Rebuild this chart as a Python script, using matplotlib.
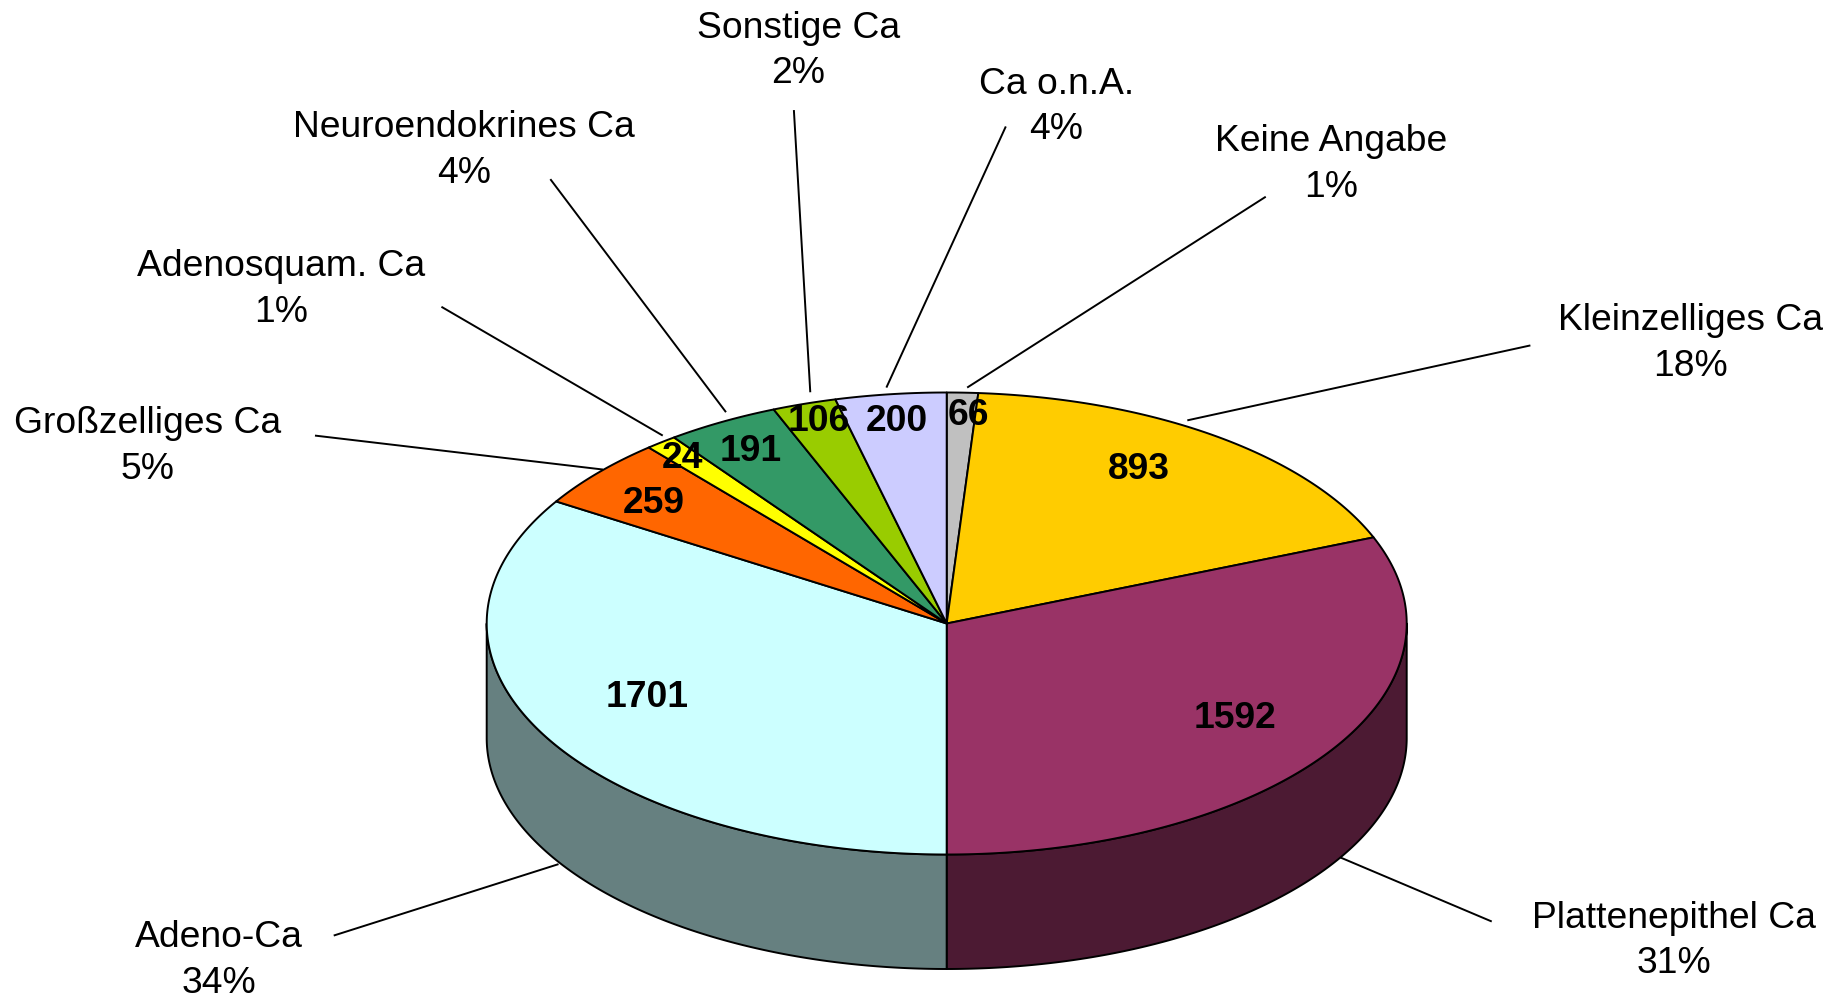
import numpy as np
import matplotlib
matplotlib.use("Agg")
import matplotlib.pyplot as plt

# ---- data (clockwise from 12 o'clock) ----
categories = ["Keine Angabe", "Kleinzelliges Ca", "Plattenepithel Ca", "Adeno-Ca",
              "Großzelliges Ca", "Adenosquam. Ca", "Neuroendokrines Ca", "Sonstige Ca", "Ca o.n.A."]
values = [66, 893, 1592, 1701, 259, 24, 191, 106, 200]
percent_labels = ["1%", "18%", "31%", "34%", "5%", "1%", "4%", "2%", "4%"]

# ---- styling ----
top_colors = ["#C0C0C0", "#FFCC00", "#993366", "#CCFFFF", "#FF6600",
              "#FFFF00", "#339966", "#99CC00", "#CCCCFF"]
wall_colors = ["#606060", "#806600", "#4C1A33", "#668080", "#803300",
               "#808000", "#1A4D33", "#4D6600", "#666680"]
# small angular corrections (deg) at each slice boundary: the source's 3D projection
angle_trim = [0, -0.78, -0.5, -2.5, -2.3, -3.1, -0.8, -0.2, 0.3, 0]

# ---- layout (pixels, in the 1836x998 frame) ----
CX, CY, RX, RY, DEPTH = 946.7, 623.5, 460.0, 231.0, 114.5
S = 1836 / 1568
TEXT_DY = 2.0
name_xy = [(1137, 119), (1444, 272), (1430, 782), (187, 799), (126, 360),
           (240, 226), (396, 107), (682, 22), (902, 70)]
pct_dy = 39
value_xy = [(827, 353), (973, 399), (1055, 612), (553, 594), (558, 428),
            (583, 390), (641, 384), (699, 358), (766, 358)]
leaders = [((1081, 168), (826, 331)), ((1307, 295), (1014, 359)), ((1274, 787), (1144, 732)),
           ((285, 799), (477, 738)), ((269, 372), (515, 401)), ((377, 262), (566, 372)),
           ((470, 153), (620, 352)), ((678, 94), (692, 335)), ((859, 108), (757, 331))]

plt.rcParams["font.family"] = ["Liberation Sans", "DejaVu Sans"]
LW = 1.4
FS = 26.8

fig = plt.figure(figsize=(18.36, 9.98), dpi=100, facecolor="white")
ax = fig.add_axes([0, 0, 1, 1])
ax.set_xlim(0, 1836)
ax.set_ylim(998, 0)
ax.axis("off")


def rim(a0, a1, dy=0.0):
    t = np.radians(np.linspace(a0, a1, max(3, int(abs(a1 - a0) * 4))))
    return CX + RX * np.sin(t), CY - RY * np.cos(t) + dy


cum = np.concatenate([[0], np.cumsum(values)])
edges = cum / cum[-1] * 360 + np.array(angle_trim)

# side walls: only the front half (90..270 deg) shows
for a0, a1, wc in zip(edges[:-1], edges[1:], wall_colors):
    lo, hi = max(a0, 90), min(a1, 270)
    if hi <= lo:
        continue
    xt, yt = rim(lo, hi)
    xb, yb = rim(lo, hi, DEPTH)
    ax.fill(np.r_[xt, xb[::-1]], np.r_[yt, yb[::-1]], facecolor=wc,
            edgecolor="black", lw=LW, joinstyle="round", zorder=2)

# top face
for a0, a1, tc in zip(edges[:-1], edges[1:], top_colors):
    x, y = rim(a0, a1)
    ax.fill(np.r_[CX, x], np.r_[CY, y], facecolor=tc, edgecolor="black",
            lw=LW, joinstyle="round", zorder=3)

# leader lines
for (p0, p1) in leaders:
    ax.plot([p0[0] * S, p1[0] * S], [p0[1] * S, p1[1] * S], color="black", lw=LW,
            solid_capstyle="butt", zorder=1)

# category + percent labels
for name, pct, (nx, ny) in zip(categories, percent_labels, name_xy):
    ax.text(nx * S, (ny + TEXT_DY) * S, name, ha="center", va="center", fontsize=FS, color="black", zorder=5)
    ax.text(nx * S, (ny + pct_dy + TEXT_DY) * S, pct, ha="center", va="center", fontsize=FS, color="black", zorder=5)

# value labels
for v, (vx, vy) in zip(values, value_xy):
    ax.text(vx * S, (vy + TEXT_DY) * S, str(v), ha="center", va="center", fontsize=FS,
            fontweight="bold", color="black", zorder=5)

fig.savefig("out.png", dpi=100, facecolor="white")
